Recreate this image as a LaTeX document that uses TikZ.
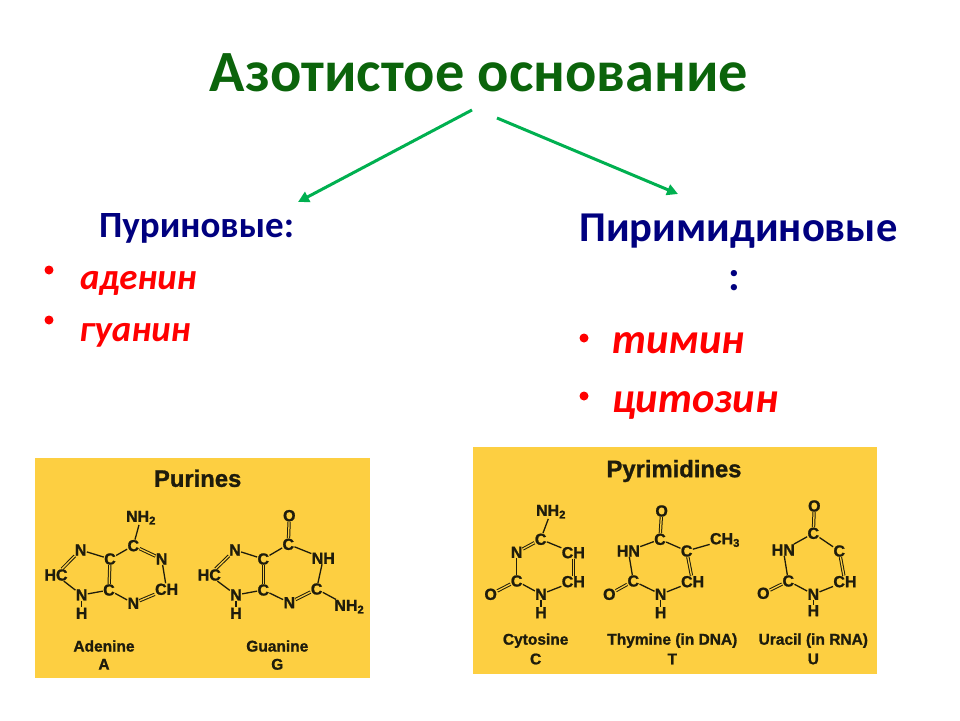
\documentclass[tikz,border=0pt]{standalone}
\usepackage{fontspec}
\setmainfont{Carlito}
\newfontfamily\chemfont[BoldFeatures={FakeBold=1.2}]{Liberation Sans}
\usetikzlibrary{arrows.meta}
\definecolor{panelc}{HTML}{FDCF41}
\definecolor{inkc}{HTML}{1E1C0C}
\definecolor{titlec}{HTML}{0B640B}
\definecolor{headc}{HTML}{00007F}
\definecolor{arrowc}{HTML}{00B050}
\tikzset{
  atom/.style={inner sep=0.2pt,text=inkc,font=\chemfont\bfseries\fontsize{16}{16}\selectfont},
  molcap/.style={inner sep=0pt,text=inkc,font=\chemfont\bfseries\fontsize{15.5}{16}\selectfont},
  paneltitle/.style={inner sep=0pt,text=inkc,font=\chemfont\bfseries\fontsize{23.8}{24}\selectfont},
  panel/.style={fill=panelc,draw=none,inner sep=0pt},
  sb/.style={draw=inkc,line width=1.3pt},
  db/.style={draw=inkc,line width=1pt,double=panelc,double distance=1.3pt},
  flow/.style={draw=arrowc,line width=3pt,-{Triangle[length=11pt,width=11pt]}},
  bigtitle/.style={inner sep=0pt,text=titlec,font=\bfseries\fontsize{58.4}{58}\selectfont},
  headsmall/.style={inner sep=0pt,text=headc,font=\bfseries\fontsize{37}{37}\selectfont},
  headbig/.style={inner sep=0pt,text=headc,font=\bfseries\fontsize{42.5}{42}\selectfont},
  itemsmall/.style={inner sep=0pt,text=red,font=\bfseries\itshape\fontsize{36.8}{37}\selectfont},
  itembig/.style={inner sep=0pt,text=red,font=\bfseries\itshape\fontsize{42.5}{42}\selectfont},
  dot/.style={inner sep=0pt,circle,fill=red,minimum size=9pt},
}
\begin{document}
\begin{tikzpicture}[x=1pt,y=-1pt]
\useasboundingbox (0,0) rectangle (960,720);
\fill[white] (0,0) rectangle (960,720);
\node[bigtitle] (title) at (479,73) {Азотистое основание};
\coordinate (a1s) at (472,110);
\coordinate (a1e) at (298,202);
\coordinate (a2s) at (497,118);
\coordinate (a2e) at (678,194);
\draw[flow] (a1s) -- (a1e);
\draw[flow] (a2s) -- (a2e);
\node[headsmall] (hp) at (196.5,228) {Пуриновые:};
\node[dot] (d1) at (49,270) {};
\node[itemsmall,anchor=west] (i1) at (80,283) {аденин};
\node[dot] (d2) at (49,320) {};
\node[itemsmall,anchor=west] (i2) at (79,335) {гуанин};
\node[headbig] (hq) at (738.5,231) {Пиримидиновые};
\node[headbig] (hc) at (734,281) {:};
\node[dot] (d3) at (584,338) {};
\node[itembig,anchor=west] (i3) at (612,343) {тимин};
\node[dot] (d4) at (584,396) {};
\node[itembig,anchor=west] (i4) at (612,405) {цитозин};
\node[panel,minimum width=335pt,minimum height=220pt] (p1) at (202.5,568) {};
\node[panel,minimum width=404pt,minimum height=227pt] (p2) at (675,560.5) {};
\begin{scope}[shift={(30,455)},x=0.3333pt,y=-0.3333pt]
\node[paneltitle] (ptt) at (503,70) {Purines};
% Adenine
\node[atom] (an) at (333,188) {NH\textsubscript{2}};
\node[atom] (a6) at (310,272) {C};
\node[atom] (a1) at (395,312) {N};
\node[atom] (a2) at (410,403) {CH};
\node[atom] (a3) at (310,445) {N};
\node[atom] (a4) at (237,405) {C};
\node[atom] (a5) at (240,312) {C};
\node[atom] (a7) at (152,285) {N};
\node[atom] (a8) at (78,360) {HC};
\node[atom] (a9) at (155,420) {N};
\node[atom] (ah) at (155,475) {H};
\draw[sb] (an)--(a6); \draw[db] (a6)--(a1); \draw[sb] (a1)--(a2); \draw[db] (a2)--(a3);
\draw[sb] (a3)--(a4); \draw[db] (a4)--(a5); \draw[sb] (a5)--(a6); \draw[sb] (a5)--(a7);
\draw[db] (a7)--(a8); \draw[sb] (a8)--(a9); \draw[sb] (a9)--(a4); \draw[sb] (a9)--(ah);
\node[molcap] (acap) at (222,573) {Adenine};
\node[molcap] (al) at (222,628) {A};
% Guanine
\node[atom] (go) at (778,182) {O};
\node[atom] (g6) at (775,268) {C};
\node[atom] (g1) at (880,310) {NH};
\node[atom] (g2) at (860,402) {C};
\node[atom] (gn) at (958,455) {NH\textsubscript{2}};
\node[atom] (g3) at (778,443) {N};
\node[atom] (g4) at (700,405) {C};
\node[atom] (g5) at (700,312) {C};
\node[atom] (g7) at (615,285) {N};
\node[atom] (g8) at (538,360) {HC};
\node[atom] (g9) at (618,420) {N};
\node[atom] (gh) at (618,475) {H};
\draw[db] (go)--(g6); \draw[sb] (g6)--(g1); \draw[sb] (g1)--(g2); \draw[sb] (g2)--(gn);
\draw[db] (g2)--(g3); \draw[sb] (g3)--(g4); \draw[db] (g4)--(g5); \draw[sb] (g5)--(g6);
\draw[sb] (g5)--(g7); \draw[db] (g7)--(g8); \draw[sb] (g8)--(g9); \draw[sb] (g9)--(g4);
\draw[sb] (g9)--(gh);
\node[molcap] (gcap) at (742,573) {Guanine};
\node[molcap] (gl) at (742,628) {G};
\end{scope}
\begin{scope}[shift={(470,445)},x=0.3333pt,y=-0.3333pt]
\node[paneltitle] (qtt) at (612,78) {Pyrimidines};
% Cytosine
\node[atom] (cn) at (243,200) {NH\textsubscript{2}};
\node[atom] (c4) at (212,283) {C};
\node[atom] (c5) at (310,323) {CH};
\node[atom] (c6) at (310,410) {CH};
\node[atom] (c1) at (213,448) {N};
\node[atom] (ch) at (213,503) {H};
\node[atom] (c2) at (140,408) {C};
\node[atom] (co) at (62,448) {O};
\node[atom] (c3) at (140,322) {N};
\draw[sb] (cn)--(c4); \draw[sb] (c4)--(c5); \draw[db] (c5)--(c6); \draw[sb] (c6)--(c1);
\draw[sb] (c1)--(ch); \draw[sb] (c1)--(c2); \draw[db] (c2)--(co); \draw[sb] (c2)--(c3); \draw[db] (c3)--(c4);
\node[molcap] (ccap) at (197,587) {Cytosine};
\node[molcap] (cl) at (197,642) {C};
% Thymine
\node[atom] (to) at (575,198) {O};
\node[atom] (t4) at (570,283) {C};
\node[atom] (t5) at (650,318) {C};
\node[atom] (tm) at (765,285) {CH\textsubscript{3}};
\node[atom] (t6) at (668,410) {CH};
\node[atom] (t1) at (572,448) {N};
\node[atom] (th) at (572,503) {H};
\node[atom] (t2) at (490,408) {C};
\node[atom] (tp) at (418,448) {O};
\node[atom] (t3) at (475,318) {HN};
\draw[db] (to)--(t4); \draw[sb] (t4)--(t5); \draw[sb] (t5)--(tm); \draw[db] (t5)--(t6);
\draw[sb] (t6)--(t1); \draw[sb] (t1)--(th); \draw[sb] (t1)--(t2); \draw[db] (t2)--(tp);
\draw[sb] (t2)--(t3); \draw[sb] (t3)--(t4);
\node[molcap] (tcap) at (607,587) {Thymine (in DNA)};
\node[molcap] (tl) at (607,642) {T};
% Uracil
\node[atom] (uo) at (1033,183) {O};
\node[atom] (u4) at (1030,265) {C};
\node[atom] (u5) at (1108,318) {C};
\node[atom] (u6) at (1125,410) {CH};
\node[atom] (u1) at (1030,448) {N};
\node[atom] (uh) at (1030,497) {H};
\node[atom] (u2) at (955,408) {C};
\node[atom] (up) at (880,445) {O};
\node[atom] (u3) at (940,315) {HN};
\draw[db] (uo)--(u4); \draw[sb] (u4)--(u5); \draw[db] (u5)--(u6); \draw[sb] (u6)--(u1);
\draw[sb] (u1)--(uh); \draw[sb] (u1)--(u2); \draw[db] (u2)--(up); \draw[sb] (u2)--(u3); \draw[sb] (u3)--(u4);
\node[molcap] (ucap) at (1030,587) {Uracil (in RNA)};
\node[molcap] (ul) at (1030,642) {U};
\end{scope}
\end{tikzpicture}
\end{document}
